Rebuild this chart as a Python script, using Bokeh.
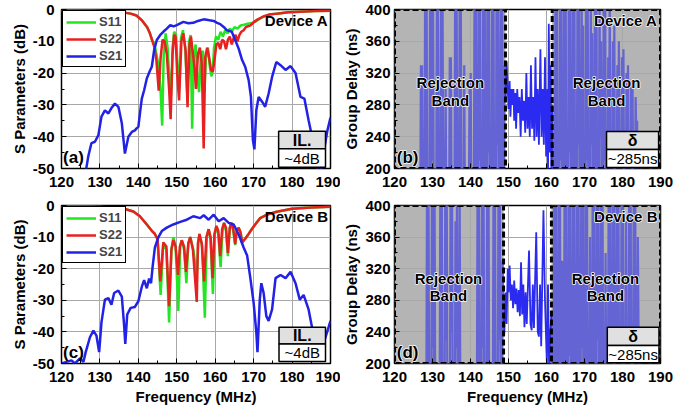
from bokeh.plotting import figure
from bokeh.layouts import column, row
from bokeh.models import BoxAnnotation, Label, FixedTicker, Legend, LegendItem, Range1d
from bokeh.embed import file_html
from bokeh.resources import INLINE

FONT = "Liberation Sans"
GREEN = "#22e622"
RED = "#e82020"
BLUE = "#2222e6"
GD_BLUE = "#2a2af0"
GD_MUTED = "#6464d4"

# ---------------- tick values ----------------
x_ticks = [120, 130, 140, 150, 160, 170, 180, 190]
x_minor = [125, 135, 145, 155, 165, 175, 185]
s_ticks = [-50, -40, -30, -20, -10, 0]
s_minor = [-45, -35, -25, -15, -5]
gd_ticks = [200, 240, 280, 320, 360, 400]
gd_minor = [220, 260, 300, 340, 380]

# ---------------- Device A : S parameters (freq MHz, dB) ----------------
a_s11 = [(120, -0.2), (128, -0.3), (134, -0.6), (136, -0.9), (138, -1.3), (139.5, -1.9), (141, -3.5),
         (142.3, -5.6), (143.0, -7.5), (143.6, -9.7), (144.2, -11), (144.7, -14), (145.3, -18),
         (145.8, -26), (146.2, -36.5), (146.6, -14), (147.1, -7.5), (147.6, -12), (148.1, -22),
         (148.5, -27), (148.9, -12), (149.3, -7), (149.8, -8), (150.2, -18), (150.6, -25),
         (151.1, -9), (151.6, -6.5), (152.2, -12), (152.7, -26), (153.2, -10), (153.6, -8),
         (154.0, -37.5), (154.4, -15), (154.9, -11), (155.4, -22), (155.8, -26), (156.3, -14),
         (156.8, -13), (157.2, -26), (157.6, -15), (158.1, -12), (158.6, -18), (159.0, -21),
         (159.3, -20), (159.7, -12), (160.2, -8.5), (160.8, -9.5), (161.4, -7), (162.0, -8.5),
         (162.6, -6.5), (163.2, -7.5), (163.8, -6), (164.4, -6.8), (165.0, -5.5), (165.8, -6),
         (166.6, -5), (167.5, -4.8), (168.5, -4.5), (169.5, -4.2), (170.5, -3.8), (171.5, -3),
         (172.5, -2.3), (174, -1.6), (176, -1.3), (179, -0.9), (182, -0.7), (186, -0.5), (190, -0.4)]

a_s22 = [(120, -0.2), (128, -0.3), (134, -0.6), (136, -0.9), (138, -1.3), (139.5, -1.9), (141, -3.5),
         (142.3, -5.6), (143.0, -7.5), (143.6, -9.7), (144.2, -12), (144.7, -16), (145.3, -25.5),
         (145.8, -15), (146.3, -9.5), (146.8, -10), (147.4, -14), (148.0, -25), (148.4, -34.5),
         (148.9, -14), (149.3, -8), (149.7, -8.5), (150.1, -20), (150.6, -28.6), (151.2, -10),
         (151.7, -7.5), (152.3, -13), (152.8, -30.7), (153.3, -11), (153.7, -8.5), (154.1, -13),
         (154.6, -18), (155.0, -25), (155.5, -14), (156.0, -12), (156.5, -17), (157.0, -43.7),
         (157.4, -15), (157.9, -12), (158.4, -15), (158.9, -19), (159.4, -19.5), (159.8, -16),
         (160.3, -11), (160.8, -10.5), (161.3, -12.5), (161.8, -9.5), (162.3, -10), (162.8, -12.5),
         (163.3, -9.5), (163.8, -8.5), (164.3, -11), (164.8, -9), (165.3, -8), (165.8, -10),
         (166.3, -8), (166.8, -7), (167.4, -6.5), (168.0, -5.5), (169.2, -5), (170.2, -3.8),
         (171.2, -3), (172.5, -2.2), (174, -1.6), (176, -1.3), (179, -0.9), (182, -0.7),
         (186, -0.5), (190, -0.4)]

a_s21 = [(126.3, -51), (127.0, -46), (127.8, -42), (128.7, -41.6), (129.6, -39.5), (130.4, -33.7),
         (131.3, -31.7), (132.2, -32.7), (133.0, -31.0), (133.9, -29.6), (134.8, -30.6),
         (135.7, -35.8), (136.5, -45.3), (137.4, -40), (138.3, -38.5), (139.1, -38.0),
         (139.6, -37.3), (140.0, -36.9), (140.5, -31.8), (140.9, -28.0), (141.5, -25.4),
         (142.2, -21.7), (142.9, -19.6), (143.5, -18.0), (144.1, -12.8), (144.8, -9.6),
         (145.7, -8.0), (146.5, -7.0), (147.4, -6.0), (148.3, -4.9), (149.2, -5.3), (150.0, -4.9),
         (151.7, -3.9), (153.0, -4.3), (154.3, -4.2), (155.5, -3.6), (157.0, -3.1), (158.5, -3.4),
         (159.6, -3.6), (160.5, -4.2), (161.3, -4.6), (162.2, -5.5), (163.0, -6.5), (164.3, -7.0),
         (165.2, -9.6), (166.1, -12.3), (167.0, -15.9), (167.8, -18.0), (168.7, -22.2),
         (169.3, -27.5), (169.8, -41.0), (170.2, -44.0), (170.7, -31.7), (171.3, -27.5),
         (172.2, -29.0), (173.0, -30.6), (173.9, -26.4), (174.8, -21.2), (175.9, -16.5),
         (177.0, -17.5), (178.3, -19.0), (179.6, -17.8), (180.9, -20.0), (182.2, -27.5),
         (183.2, -28.0), (184.3, -34.8), (185.2, -40.0), (186.1, -47.4), (186.8, -51),
         (187.6, -50), (188.5, -43), (189.2, -38), (190.0, -34)]

# ---------------- Device B : S parameters ----------------
c_s11 = [(120, -0.2), (128, -0.3), (134, -0.7), (136.5, -1.1), (138.7, -1.9), (140.4, -3.4),
         (142.2, -6), (143.5, -8), (144.3, -9), (145, -10.7), (145.8, -28.3), (146.5, -11.7),
         (147.3, -14), (148, -37), (148.6, -14), (149.1, -10), (149.7, -13), (150.4, -33.4),
         (150.9, -13), (151.3, -11), (151.9, -14), (152.5, -24.6), (153, -12), (153.5, -10),
         (154.3, -14), (155.2, -22), (155.6, -12), (155.9, -9), (156.6, -13), (157.3, -35.5),
         (157.8, -10), (158.3, -7.5), (158.8, -11), (159.4, -28), (159.9, -9), (160.3, -6.5),
         (160.8, -9), (161.4, -19.5), (161.9, -8), (162.3, -5.5), (162.8, -8), (163.3, -16),
         (163.8, -7), (164.2, -5.5), (164.7, -8), (165.2, -12.5), (165.6, -8), (166.1, -7),
         (166.6, -8.5), (167, -11.7), (167.8, -10.5), (168.7, -9), (169.5, -7.5), (170.4, -6),
         (171.7, -4), (173.5, -2.9), (176, -2), (180, -1), (185, -0.6), (190, -0.4)]

c_s22 = [(120, -0.2), (128, -0.3), (134, -0.7), (136.5, -1.1), (138.7, -1.9), (140.4, -3.4),
         (142.2, -6), (143.5, -8), (144.3, -9), (145, -10.7), (145.7, -24), (146.5, -11.7),
         (147.3, -13), (148, -31.9), (148.6, -14), (149.1, -11), (149.7, -13), (150.3, -22),
         (150.8, -13), (151.3, -11), (151.9, -13), (152.4, -21), (153, -12), (153.5, -10),
         (154.2, -14), (155.2, -30.5), (155.5, -12), (155.9, -9), (156.5, -12), (157.1, -24),
         (157.7, -10), (158.3, -7.5), (158.8, -10), (159.3, -23), (159.8, -9), (160.3, -6.5),
         (160.8, -8), (161.3, -16), (161.8, -7.5), (162.3, -5.5), (162.8, -7), (163.3, -15),
         (163.8, -7), (164.2, -5.5), (164.7, -7.5), (165.2, -12.2), (165.6, -8), (166.1, -7),
         (166.6, -8.5), (167, -11.7), (167.8, -10.5), (168.7, -9), (169.5, -7.5), (170.4, -6),
         (171.7, -4), (173.5, -2.9), (176, -2), (180, -1), (185, -0.6), (190, -0.4)]

c_s21 = [(120.0, -50), (121.3, -49.5), (122.6, -49), (123.5, -50), (124.8, -48.4), (125.7, -49.5),
         (126.3, -46.4), (127.4, -41.7), (128.3, -39.6), (129.1, -41.2), (129.8, -46.4),
         (130.4, -37), (131.3, -29.8), (132.2, -29.3), (133.0, -31.4), (133.7, -27.7),
         (134.8, -26.9), (135.7, -28.8), (136.3, -38), (136.6, -43.8), (137.1, -34.5),
         (138.0, -32.4), (139.1, -32.1), (140.0, -30.3), (140.9, -25.7), (141.5, -23.6),
         (142.2, -26.2), (142.8, -23.1), (143.3, -24.6), (143.7, -19.5), (144.3, -13.3),
         (145.2, -10.1), (146.1, -8.1), (147.4, -7), (149.1, -6), (150.9, -5.2), (152.6, -4.5),
         (154.3, -3.4), (156.1, -4), (157.0, -3.1), (158.3, -4.5), (159.6, -2.9), (160.9, -5),
         (162.2, -4), (163.5, -5.5), (164.8, -6), (166.1, -9.1), (167.4, -13.3), (168.3, -15.8),
         (169.1, -22.6), (170.0, -30.8), (170.7, -40.2), (171.0, -46.4), (171.6, -29.8),
         (172.0, -24.6), (172.6, -27.7), (173.3, -35), (173.9, -36.5), (174.8, -32.9),
         (175.7, -23), (177.0, -22), (178.3, -23), (179.6, -21), (180.9, -24.6), (182.0, -29.8),
         (183.0, -28.3), (184.3, -32.9), (185.2, -38.6), (186.2, -45), (187.2, -47),
         (188.7, -41.7), (190.0, -36.5)]

# ---------------- Device A : group delay (freq MHz, ns); 180/420 = off scale ----------------
b_left = [(126.8, 180), (126.95, 330), (127.1, 240), (127.25, 330), (127.4, 180),
          (127.9, 180), (128.05, 420), (128.25, 200), (128.45, 420), (128.6, 180),
          (129.2, 180), (129.35, 420), (129.55, 190), (129.75, 420), (129.95, 210), (130.15, 420), (130.3, 180),
          (131.0, 180), (131.15, 420), (131.3, 230), (131.45, 420), (131.6, 180),
          (132.1, 180), (132.25, 420), (132.45, 200), (132.65, 420), (132.8, 180),
          (133.3, 180), (133.45, 300), (133.6, 180),
          (134.4, 180), (134.55, 340), (134.7, 220), (134.85, 340), (135.0, 180),
          (135.8, 180), (135.95, 420), (136.15, 190), (136.35, 420), (136.5, 180),
          (137.0, 180), (137.15, 420), (137.3, 210), (137.45, 420), (137.6, 180),
          (138.2, 180), (138.35, 330), (138.5, 180),
          (139.6, 180), (139.75, 300), (139.9, 230), (140.05, 320), (140.2, 180),
          (140.9, 180), (141.05, 420), (141.25, 200), (141.45, 420), (141.6, 180),
          (142.0, 180), (142.15, 420), (142.35, 210), (142.55, 420), (142.7, 180),
          (143.2, 180), (143.35, 420), (143.55, 190), (143.75, 420), (143.9, 180),
          (144.3, 180), (144.45, 420), (144.65, 220), (144.85, 420), (145.0, 180),
          (145.5, 180), (145.65, 420), (145.85, 200), (146.05, 420), (146.2, 180),
          (146.7, 180), (146.85, 420), (147.05, 230), (147.25, 420), (147.4, 180),
          (147.8, 180), (147.95, 420), (148.15, 190), (148.35, 420), (148.5, 180),
          (148.8, 180), (148.95, 330), (149.2, 290)]

b_pass = [(149.2, 290), (149.5, 335), (149.8, 300), (150.0, 275), (150.3, 310), (150.5, 265),
          (150.8, 300), (151.0, 280), (151.3, 300), (151.5, 260), (151.8, 295), (152.0, 250),
          (152.3, 300), (152.6, 270), (152.9, 290), (153.2, 240), (153.5, 300), (153.8, 260),
          (154.1, 285), (154.4, 245), (154.7, 320), (155.0, 250), (155.3, 290), (155.6, 240),
          (155.9, 330), (156.2, 250), (156.5, 290), (156.8, 235), (157.1, 340), (157.4, 240),
          (157.7, 300), (158.0, 230), (158.4, 350), (158.7, 240), (159.0, 300), (159.3, 230),
          (159.6, 340), (159.9, 215), (160.2, 300), (160.4, 190), (160.6, 382), (160.9, 220),
          (161.1, 330), (161.3, 185), (161.5, 280)]

b_right = [(161.5, 280), (161.7, 180),
           (162.2, 180), (162.35, 420), (162.55, 190), (162.75, 420), (162.9, 180),
           (163.4, 180), (163.55, 420), (163.75, 210), (163.95, 420), (164.1, 180),
           (164.5, 180), (164.65, 420), (164.85, 200), (165.05, 420), (165.2, 180),
           (165.7, 180), (165.85, 420), (166.05, 220), (166.25, 420), (166.4, 180),
           (166.8, 180), (166.95, 420), (167.15, 190), (167.35, 420), (167.5, 180),
           (168.0, 180), (168.15, 420), (168.35, 230), (168.55, 420), (168.7, 180),
           (169.1, 180), (169.25, 420), (169.45, 200), (169.65, 380), (169.8, 180),
           (170.3, 180), (170.45, 420), (170.65, 210), (170.85, 420), (171.0, 180),
           (171.5, 180), (171.65, 420), (171.85, 230), (172.05, 370), (172.2, 180),
           (172.6, 180), (172.75, 420), (172.95, 200), (173.15, 420), (173.3, 180),
           (173.8, 180), (173.95, 420), (174.15, 240), (174.35, 360), (174.5, 180),
           (174.9, 180), (175.05, 420), (175.25, 210), (175.45, 420), (175.6, 180),
           (176.1, 180), (176.25, 340), (176.45, 230), (176.65, 420), (176.8, 180),
           (177.3, 180), (177.45, 360), (177.65, 230), (177.85, 380), (178.0, 180),
           (178.5, 180), (178.65, 330), (178.85, 220), (179.05, 360), (179.2, 180),
           (179.7, 180), (179.85, 340), (180.05, 230), (180.25, 350), (180.4, 180),
           (180.9, 180), (181.05, 320), (181.25, 230), (181.45, 330), (181.6, 180),
           (182.1, 180), (182.25, 310), (182.45, 240), (182.65, 300), (182.8, 180),
           (183.3, 180), (183.45, 290), (183.65, 240), (183.85, 260), (184.0, 180)]

# ---------------- Device B : group delay ----------------
d_left = [(128.4, 180), (128.55, 420), (128.75, 200), (128.95, 420), (129.1, 180),
          (129.7, 180), (129.85, 420), (130.05, 220), (130.25, 420), (130.4, 180), (130.55, 420), (130.7, 180),
          (131.9, 180), (132.05, 420), (132.25, 200), (132.45, 420), (132.6, 180),
          (133.2, 180), (133.35, 420), (133.55, 230), (133.75, 420), (133.9, 180),
          (134.6, 180), (134.75, 420), (134.95, 240), (135.15, 420), (135.3, 180),
          (135.9, 180), (136.05, 380), (136.25, 220), (136.45, 420), (136.6, 180),
          (137.0, 180), (137.15, 420), (137.3, 180),
          (141.7, 180), (141.85, 420), (142.05, 200), (142.25, 420), (142.4, 180),
          (142.9, 180), (143.05, 420), (143.25, 220), (143.45, 420), (143.6, 180),
          (144.2, 180), (144.35, 420), (144.55, 200), (144.75, 420), (144.9, 180),
          (145.9, 180), (146.05, 420), (146.25, 200), (146.45, 420), (146.6, 180),
          (147.2, 180), (147.35, 420), (147.55, 230), (147.75, 420), (147.9, 180),
          (148.3, 180), (148.45, 330), (148.7, 260)]

d_pass = [(148.7, 260), (148.9, 238), (149.2, 290), (149.5, 250), (149.8, 320), (150.0, 290),
          (150.3, 324), (150.6, 280), (150.9, 300), (151.2, 270), (151.5, 305), (151.8, 275),
          (152.1, 295), (152.4, 265), (152.7, 293), (153.0, 260), (153.3, 328), (153.6, 262),
          (153.9, 300), (154.2, 246), (154.5, 290), (154.8, 250), (155.4, 343), (155.8, 250),
          (156.1, 242), (156.4, 300), (156.7, 245), (157.3, 366), (157.7, 240), (158.0, 234),
          (158.3, 300), (158.6, 222), (159.2, 394), (159.6, 280), (159.9, 230), (160.1, 200),
          (160.4, 300), (160.7, 185), (161.0, 240), (161.3, 260)]

d_right = [(161.3, 260), (161.45, 180),
           (161.9, 180), (162.05, 420), (162.25, 190), (162.45, 420), (162.6, 180),
           (163.0, 180), (163.15, 420), (163.35, 200), (163.55, 420), (163.7, 180),
           (164.0, 180), (164.15, 330), (164.3, 180),
           (164.6, 180), (164.75, 420), (164.95, 200), (165.15, 420), (165.3, 180),
           (165.7, 180), (165.85, 420), (166.05, 210), (166.25, 420), (166.4, 180),
           (166.8, 180), (166.95, 420), (167.15, 190), (167.35, 400), (167.5, 180),
           (167.9, 180), (168.05, 420), (168.25, 200), (168.45, 420), (168.6, 180),
           (169.0, 180), (169.15, 420), (169.35, 220), (169.55, 420), (169.7, 180),
           (170.1, 180), (170.25, 420), (170.45, 190), (170.65, 420), (170.8, 180),
           (171.3, 180), (171.45, 360), (171.6, 180),
           (172.0, 180), (172.15, 420), (172.35, 200), (172.55, 420), (172.7, 180),
           (173.1, 180), (173.25, 420), (173.45, 230), (173.65, 420), (173.8, 180),
           (174.2, 180), (174.35, 420), (174.55, 190), (174.75, 420), (174.9, 180),
           (175.4, 180), (175.55, 340), (175.7, 180),
           (176.2, 180), (176.35, 420), (176.55, 200), (176.75, 420), (176.9, 180),
           (177.3, 180), (177.45, 420), (177.65, 220), (177.85, 420), (178.0, 180),
           (178.4, 180), (178.55, 420), (178.75, 190), (178.95, 400), (179.1, 180),
           (179.6, 180), (179.75, 420), (179.95, 200), (180.15, 420), (180.3, 180),
           (180.8, 180), (180.95, 380), (181.1, 180),
           (181.6, 180), (181.75, 420), (181.95, 200), (182.15, 420), (182.3, 180),
           (182.8, 180), (182.95, 420), (183.15, 200), (183.35, 420), (183.5, 180),
           (183.9, 180), (184.05, 360), (184.3, 180)]

# rejection band limits (MHz)
b_bands = [(120, 149.2), (161.5, 190)]
d_bands = [(120, 148.7), (161.3, 190)]


def xs(pts):
    return [p[0] for p in pts]


def ys(pts):
    return [p[1] for p in pts]


def style_axis(ax, ticks, minor, standoff):
    ax.ticker = FixedTicker(ticks=ticks, minor_ticks=minor)
    ax.major_label_text_font = FONT
    ax.major_label_text_font_style = "bold"
    ax.major_label_text_font_size = "15px"
    ax.major_label_text_color = "black"
    ax.major_label_standoff = standoff
    ax.major_label_overrides = {t: str(t) for t in ticks}
    ax.major_tick_in = 5
    ax.major_tick_out = 0
    ax.minor_tick_in = 3
    ax.minor_tick_out = 0
    ax.major_tick_line_color = "black"
    ax.minor_tick_line_color = "black"
    ax.axis_line_color = None
    ax.axis_label_text_font = FONT
    ax.axis_label_text_font_style = "bold"
    ax.axis_label_text_font_size = "15px"
    ax.axis_label_text_color = "black"


def make_fig(width, height, bl, br, bt, bb, yr, yticks, yminor, ylabel, xlabel, ystand):
    p = figure(width=width, height=height, x_range=Range1d(120, 190), y_range=Range1d(*yr),
               output_backend="svg", toolbar_location=None,
               min_border_left=bl, min_border_right=br, min_border_top=bt, min_border_bottom=bb)
    p.outline_line_color = "black"
    p.outline_line_width = 1.5
    p.outline_line_alpha = 1
    p.background_fill_color = "white"
    p.border_fill_color = "white"
    style_axis(p.xaxis[0], x_ticks, x_minor, 8)
    style_axis(p.yaxis[0], yticks, yminor, ystand)
    p.yaxis[0].axis_label = ylabel
    p.yaxis[0].axis_label_standoff = 2
    if xlabel:
        p.xaxis[0].axis_label = xlabel
        p.xaxis[0].axis_label_standoff = 3
    p.xgrid.ticker = FixedTicker(ticks=x_ticks)
    p.ygrid.ticker = FixedTicker(ticks=yticks)
    for g in (p.xgrid[0], p.ygrid[0]):
        g.grid_line_color = "#a8a8a8"
        g.grid_line_width = 1
    return p


def add_label(p, x, y, text, size, align, baseline, bold=True, halo=False):
    kw = dict(x=x, y=y, text=text, text_font=FONT, text_font_size=size,
              text_font_style="bold" if bold else "normal",
              text_align=align, text_baseline=baseline)
    if halo:
        try:
            p.add_layout(Label(**kw, text_color="white", text_outline_color="white"))
        except Exception:
            pass
    p.add_layout(Label(**kw, text_color="black"))


def info_box(p, x0, x1, ytop, ymid, ybot, head, body):
    p.add_layout(BoxAnnotation(left=x0, right=x1, bottom=ymid, top=ytop, fill_color="#e0e0e0",
                               fill_alpha=1, line_color="black", line_alpha=1, line_width=1.5))
    p.add_layout(BoxAnnotation(left=x0, right=x1, bottom=ybot, top=ymid, fill_color="white",
                               fill_alpha=1, line_color="black", line_alpha=1, line_width=1.5))
    add_label(p, (x0 + x1) / 2, (ytop + ymid) / 2, head, "16px", "center", "middle")
    add_label(p, (x0 + x1) / 2, (ymid + ybot) / 2, body, "15px", "center", "middle", bold=False)


def s_panel(p, s11, s22, s21, tag, dev, box):
    r1 = p.line(xs(s11), ys(s11), color=GREEN, line_width=2.5)
    r2 = p.line(xs(s22), ys(s22), color=RED, line_width=2.5)
    r3 = p.line(xs(s21), ys(s21), color=BLUE, line_width=2.5)
    leg = Legend(items=[LegendItem(label="S11", renderers=[r1]),
                        LegendItem(label="S22", renderers=[r2]),
                        LegendItem(label="S21", renderers=[r3])],
                 location="top_left")
    leg.border_line_color = "black"
    leg.border_line_width = 1
    leg.border_line_alpha = 1
    leg.background_fill_color = "white"
    leg.background_fill_alpha = 1
    leg.label_text_font = FONT
    leg.label_text_font_style = "bold"
    leg.label_text_font_size = "13px"
    leg.glyph_width = 30
    leg.glyph_height = 14
    leg.label_height = 14
    leg.label_standoff = 3
    leg.spacing = 2
    leg.padding = 3
    leg.margin = 1
    p.add_layout(leg)
    add_label(p, 120.4, -49.6, tag, "17px", "left", "bottom")
    add_label(p, 189.4, -0.8, dev, "15px", "right", "top")
    info_box(p, *box, "IL.", "~4dB")


def gd_panel(p, left, passb, right, bands, tag, dev, box, rej_x):
    grays = [BoxAnnotation(left=a, right=b, fill_color="#b4b4b4", fill_alpha=1,
                           line_color=None, level="underlay") for a, b in bands]
    p.center = grays + list(p.center)
    p.line(xs(left), ys(left), color=GD_MUTED, line_width=2.2)
    p.line(xs(right), ys(right), color=GD_MUTED, line_width=2.2)
    p.line(xs(passb), ys(passb), color=GD_BLUE, line_width=1.8)
    for a, b in bands:
        p.add_layout(BoxAnnotation(left=a, right=b, fill_alpha=0, line_color="black",
                                   line_alpha=1, line_width=3, line_dash="6 3",
                                   level="overlay"))
    for xc in rej_x:
        add_label(p, xc, 308, "Rejection", "15px", "center", "middle", halo=True)
        add_label(p, xc, 286, "Band", "15px", "center", "middle", halo=True)
    add_label(p, 120.6, 201.5, tag, "17px", "left", "bottom", halo=True)
    add_label(p, 189.2, 396.5, dev, "15px", "right", "top", halo=True)
    info_box(p, *box, "δ", "~285ns")


pa = make_fig(340, 195, 61, 10, 9, 27, (-50, 0), s_ticks, s_minor, "S Parameters (dB)", None, 7)
s_panel(pa, a_s11, a_s22, a_s21, "(a)", "Device A", (176.5, 188.7, -38.3, -43.8, -49.6))

pb = make_fig(357, 195, 54, 37, 9, 27, (200, 400), gd_ticks, gd_minor, "Group Delay (ns)", None, 4)
gd_panel(pb, b_left, b_pass, b_right, b_bands, "(b)", "Device A",
         (175.8, 189.5, 246.5, 224, 201.3), [134.7, 175.8])

pc = make_fig(340, 218, 61, 10, 9, 48, (-50, 0), s_ticks, s_minor, "S Parameters (dB)",
              "Frequency (MHz)", 7)
s_panel(pc, c_s11, c_s22, c_s21, "(c)", "Device B", (176.6, 188.7, -38.5, -43.8, -49.4))

pd = make_fig(357, 218, 54, 37, 10, 50, (200, 400), gd_ticks, gd_minor, "Group Delay (ns)",
              "Frequency (MHz)", 4)
gd_panel(pd, d_left, d_pass, d_right, d_bands, "(d)", "Device B",
         (176.0, 189.6, 246, 222.8, 200.9), [134.2, 175.5])

layout = column(row(pa, pb), row(pc, pd))
open("out.html", "w").write(file_html(layout, INLINE))
